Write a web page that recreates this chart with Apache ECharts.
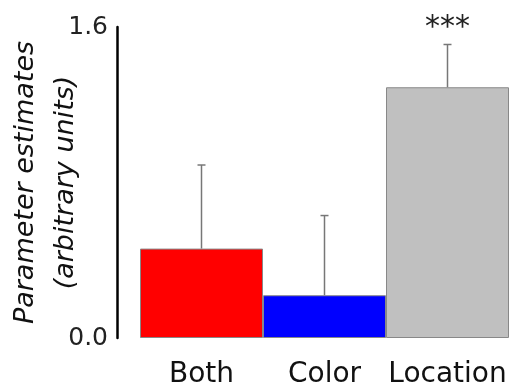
<!DOCTYPE html>
<html>
<head>
<meta charset="utf-8">
<script src="https://cdn.jsdelivr.net/npm/echarts@6/dist/echarts.min.js"></script>
<style>
html,body{margin:0;padding:0;background:#fff;}
#chart{width:509px;height:389px;}
</style>
</head>
<body>
<div id="chart"></div>
<script>
var categories = ['Both', 'Color', 'Location'];
var values = [0.46, 0.22, 1.29];
var errors = [0.43, 0.41, 0.22];
var significance = ['', '', '***'];
var barColors = ['#ff0000', '#0000ff', '#c0c0c0'];
var yTicks = [0, 1.6];

var chart = echarts.init(document.getElementById('chart'));
var font = '"DejaVu Sans", "Open Sans", sans-serif';
chart.setOption({
  animation: false,
  backgroundColor: '#fff',
  grid: {left: 140, right: 0, top: 27, bottom: 51, outerBoundsMode: 'none', containLabel: false},
  xAxis: {
    type: 'category',
    data: categories,
    axisLine: {show: false},
    axisTick: {show: false},
    axisLabel: {color: '#111', fontSize: 28, fontFamily: font, margin: 23, interval: 0}
  },
  yAxis: {
    type: 'value',
    min: yTicks[0],
    max: yTicks[1],
    interval: 1.6,
    offset: 23,
    splitLine: {show: false},
    axisLine: {show: true, lineStyle: {color: '#000', width: 2.5}},
    axisTick: {show: false},
    axisLabel: {color: '#222', fontSize: 25, fontFamily: font, margin: 9,
      formatter: function (v) { return v.toFixed(1); }},
    name: 'Parameter estimates\n(arbitrary units)',
    nameLocation: 'middle',
    nameGap: 31,
    nameMoveOverlap: false,
    nameTextStyle: {color: '#111', fontSize: 27, fontStyle: 'italic', fontFamily: font, lineHeight: 40}
  },
  series: [
    {
      type: 'bar',
      data: values.map(function (v, i) {
        return {value: v, itemStyle: {color: barColors[i]}};
      }),
      barWidth: '100%',
      barCategoryGap: 0,
      itemStyle: {borderColor: '#888', borderWidth: 1}
    },
    {
      type: 'custom',
      data: values.map(function (v, i) { return [i, v, v + errors[i], significance[i]]; }),
      renderItem: function (params, api) {
        var i = api.value(0);
        var lo = api.coord([i, api.value(1)]);
        var hi = api.coord([i, api.value(2)]);
        var children = [
          {type: 'line', shape: {x1: lo[0], y1: lo[1], x2: hi[0], y2: hi[1]},
            style: {stroke: '#777', lineWidth: 1.5}},
          {type: 'line', shape: {x1: hi[0] - 4, y1: hi[1], x2: hi[0] + 4, y2: hi[1]},
            style: {stroke: '#777', lineWidth: 1.5}}
        ];
        var sig = significance[params.dataIndex];
        if (sig) {
          children.push({type: 'text', x: hi[0], y: hi[1] - 16,
            style: {text: sig, fill: '#222', font: '30px ' + font, align: 'center', verticalAlign: 'middle'}});
        }
        return {type: 'group', children: children};
      },
      z: 5
    }
  ]
});
</script>
</body>
</html>
